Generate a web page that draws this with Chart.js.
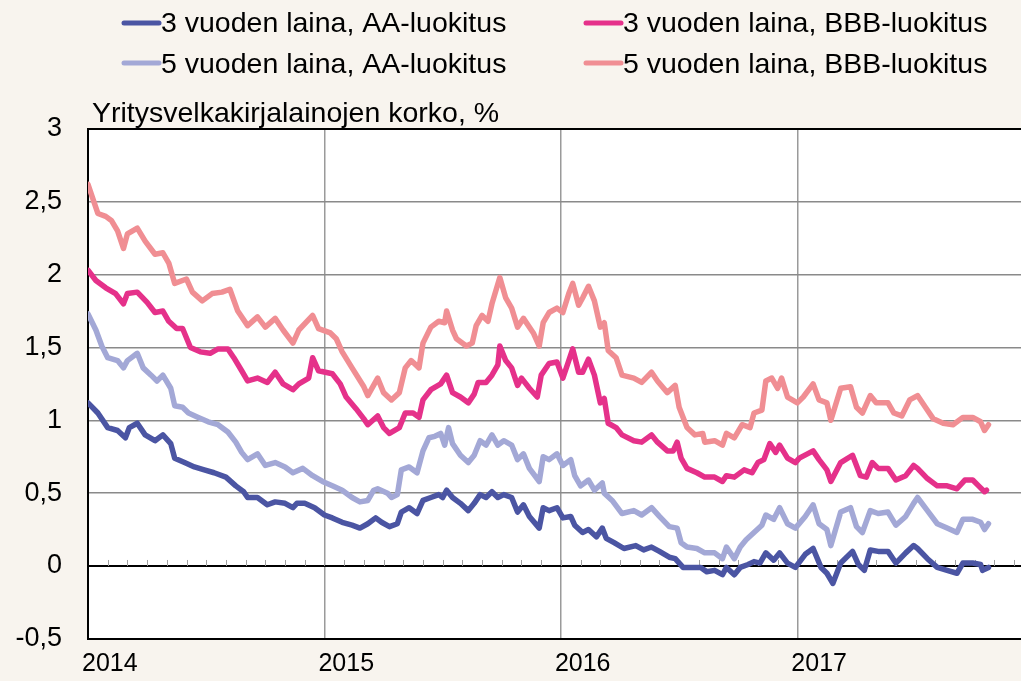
<!DOCTYPE html>
<html>
<head>
<meta charset="utf-8">
<script src="https://cdn.jsdelivr.net/npm/chart.js@4.4.1/dist/chart.umd.min.js"></script>
<style>
  body { margin: 0; background: #f8f4ee; }
  canvas { display: block; }
</style>
</head>
<body>
<canvas id="grafico" width="1021" height="681"></canvas>
<script>
// x = kuukausia vuoden 2014 alusta
const xTicks = [0, 12, 24, 36];
const yearLabels = ['2014', '2015', '2016', '2017'];
const yTicks = [-0.5, 0, 0.5, 1, 1.5, 2, 2.5, 3];

const seriesNames = ['3 vuoden laina, AA-luokitus', '3 vuoden laina, BBB-luokitus',
                     '5 vuoden laina, AA-luokitus', '5 vuoden laina, BBB-luokitus'];
const seriesColors = ['#4b55a3', '#e5318a', '#a3a8d6', '#f08e93'];
const yAxisTitle = 'Yritysvelkakirjalainojen korko, %';

const aa3Months = [0,0.5,1.0,1.5,1.9,2.1,2.5,2.9,3.4,3.8,4.2,4.4,4.9,5.4,5.9,6.4,7.0,7.5,7.9,8.1,8.6,9.1,9.5,10.0,10.4,10.6,11.0,11.5,12.0,
  12.4,12.9,13.4,13.8,14.2,14.6,14.9,15.3,15.7,15.9,16.3,16.7,17.0,17.4,17.8,18.0,18.2,18.5,18.9,19.3,19.6,19.9,20.2,20.5,20.8,21.1,21.5,21.8,22.1,22.4,22.9,23.1,23.4,23.8,
  24.1,24.5,24.7,25.1,25.4,25.8,26.1,26.3,26.7,27.2,27.8,28.2,28.6,29.0,29.5,29.8,30.2,30.6,31.1,31.4,31.8,32.2,32.4,32.8,33.1,33.5,33.8,34.1,34.4,34.8,35.1,35.5,35.9,
  36.4,36.8,37.2,37.5,37.8,38.2,38.8,39.1,39.4,39.7,40.1,40.6,41.0,41.5,41.9,42.1,42.6,43.1,43.6,44.1,44.4,44.9,45.3,45.4,45.7];
const aa3Values = [1.12,1.05,0.95,0.93,0.88,0.95,0.98,0.90,0.86,0.90,0.84,0.74,0.71,0.68,0.66,0.64,0.61,0.55,0.51,0.47,0.47,0.42,0.44,0.43,0.40,0.43,0.43,0.40,0.35,
  0.33,0.30,0.28,0.26,0.29,0.33,0.30,0.27,0.29,0.37,0.40,0.36,0.45,0.47,0.49,0.47,0.52,0.47,0.43,0.38,0.43,0.49,0.47,0.51,0.47,0.49,0.47,0.37,0.42,0.34,0.26,0.40,0.38,0.40,
  0.33,0.34,0.28,0.23,0.25,0.20,0.26,0.19,0.16,0.12,0.14,0.11,0.13,0.10,0.06,0.05,-0.01,-0.01,-0.01,-0.04,-0.03,-0.06,-0.01,-0.06,-0.01,0.01,0.03,0.02,0.09,0.04,0.09,0.02,-0.01,
  0.08,0.12,-0.01,-0.05,-0.12,0.02,0.10,0.01,-0.03,0.11,0.10,0.10,0.02,0.09,0.14,0.12,0.05,-0.01,-0.03,-0.05,0.02,0.02,0.01,-0.03,-0.01];

const bbb3Months = [0,0.4,0.9,1.4,1.8,2.0,2.5,3.0,3.4,3.8,4.1,4.5,4.8,5.2,5.7,6.2,6.6,7.1,7.4,7.8,8.1,8.6,9.1,9.5,9.9,10.4,10.7,11.2,11.4,11.7,
  12.4,12.8,13.1,13.6,14.0,14.2,14.7,15.0,15.3,15.8,16.1,16.5,16.8,17.0,17.4,17.9,18.2,18.5,18.9,19.3,19.6,19.8,20.2,20.5,20.8,20.9,21.2,21.5,21.8,22.0,22.4,22.8,23.0,23.4,23.8,
  24.1,24.4,24.6,24.9,25.1,25.4,25.7,26.0,26.2,26.4,26.8,27.1,27.7,28.1,28.6,28.9,29.4,29.7,29.9,30.1,30.4,30.9,31.3,31.8,32.2,32.4,32.8,33.3,33.7,34.0,34.3,34.6,34.9,35.1,35.5,35.9,
  36.1,36.8,37.1,37.5,37.7,38.2,38.8,39.2,39.5,39.8,40.1,40.6,41.0,41.5,41.9,42.1,42.6,43.1,43.6,44.1,44.5,44.9,45.2,45.5,45.6];
const bbb3Values = [2.03,1.96,1.91,1.87,1.80,1.87,1.88,1.81,1.74,1.75,1.68,1.63,1.63,1.50,1.47,1.46,1.49,1.49,1.43,1.34,1.27,1.29,1.26,1.33,1.25,1.21,1.25,1.29,1.43,1.34,
  1.32,1.25,1.16,1.08,1.01,0.97,1.03,0.95,0.91,0.95,1.05,1.05,1.02,1.14,1.21,1.25,1.31,1.19,1.16,1.12,1.18,1.26,1.26,1.31,1.38,1.51,1.41,1.36,1.24,1.29,1.22,1.16,1.31,1.39,1.40,
  1.29,1.41,1.49,1.33,1.33,1.42,1.31,1.12,1.15,0.98,0.95,0.90,0.86,0.85,0.90,0.85,0.79,0.79,0.85,0.74,0.67,0.64,0.61,0.61,0.58,0.62,0.61,0.66,0.64,0.71,0.73,0.84,0.78,0.83,0.74,0.71,
  0.74,0.79,0.73,0.66,0.58,0.71,0.76,0.62,0.61,0.71,0.67,0.67,0.59,0.62,0.69,0.67,0.60,0.55,0.55,0.53,0.59,0.59,0.55,0.51,0.52];

const aa5Months = [0,0.4,0.7,1.0,1.5,1.8,2.0,2.5,2.8,3.2,3.5,3.8,4.2,4.4,4.8,5.1,5.6,6.1,6.6,7.1,7.5,7.8,8.1,8.6,9.0,9.5,10.0,10.4,10.9,11.4,11.9,
  12.4,12.9,13.4,13.8,14.2,14.5,14.7,15.2,15.4,15.7,15.9,16.3,16.7,17.0,17.3,17.6,17.9,18.1,18.3,18.5,18.9,19.3,19.6,19.9,20.2,20.5,20.8,21.1,21.5,21.8,22.1,22.4,22.9,23.1,23.4,23.8,
  24.1,24.5,24.7,25.0,25.4,25.7,26.1,26.2,26.6,27.1,27.7,28.1,28.6,29.0,29.5,29.9,30.1,30.4,30.9,31.3,31.8,32.2,32.4,32.8,33.1,33.4,33.8,34.2,34.4,34.8,35.1,35.5,35.9,
  36.4,36.8,37.1,37.5,37.7,38.2,38.7,39.0,39.3,39.7,40.1,40.6,41.0,41.5,41.9,42.1,42.6,43.1,43.6,44.1,44.4,44.9,45.3,45.5,45.7];
const aa5Values = [1.73,1.62,1.51,1.43,1.41,1.36,1.41,1.46,1.36,1.31,1.27,1.31,1.22,1.10,1.09,1.05,1.02,0.99,0.97,0.92,0.85,0.78,0.73,0.77,0.69,0.71,0.68,0.64,0.67,0.62,0.58,
  0.55,0.52,0.47,0.44,0.45,0.52,0.53,0.50,0.47,0.49,0.66,0.68,0.64,0.79,0.88,0.89,0.91,0.83,0.95,0.84,0.76,0.71,0.76,0.86,0.83,0.90,0.83,0.86,0.83,0.73,0.77,0.67,0.58,0.75,0.73,0.77,
  0.69,0.73,0.62,0.55,0.59,0.52,0.57,0.50,0.45,0.36,0.38,0.35,0.40,0.34,0.27,0.26,0.16,0.13,0.12,0.09,0.09,0.05,0.13,0.05,0.13,0.18,0.23,0.28,0.35,0.32,0.40,0.29,0.26,
  0.34,0.42,0.29,0.25,0.14,0.37,0.40,0.27,0.23,0.38,0.36,0.37,0.28,0.34,0.43,0.47,0.38,0.29,0.26,0.23,0.32,0.32,0.30,0.25,0.29];

const bbb5Months = [0,0.5,0.9,1.2,1.5,1.8,2.0,2.5,2.9,3.4,3.8,4.1,4.4,5.0,5.3,5.8,6.3,6.8,7.2,7.6,8.1,8.6,9.0,9.5,9.9,10.4,10.7,11.4,11.7,
  12.3,12.6,12.9,13.4,14.0,14.2,14.7,15.0,15.4,15.8,16.1,16.4,16.8,17.0,17.4,17.8,18.1,18.2,18.5,18.7,19.2,19.5,19.7,20.0,20.3,20.5,20.9,21.2,21.5,21.8,22.1,22.6,22.9,23.1,23.4,23.8,
  24.1,24.4,24.6,24.9,25.1,25.4,25.7,26.0,26.2,26.4,26.8,27.1,27.7,28.1,28.6,28.9,29.4,29.8,30.0,30.4,30.8,31.2,31.3,31.8,32.2,32.4,32.8,33.2,33.6,33.8,34.2,34.4,34.7,35.0,35.2,35.5,
  36.0,36.3,36.8,37.1,37.5,37.7,38.2,38.7,39.0,39.3,39.7,40.0,40.6,40.9,41.3,41.7,42.1,42.5,42.9,43.4,43.9,44.4,44.9,45.3,45.5,45.7];
const bbb5Values = [2.62,2.42,2.40,2.37,2.30,2.18,2.28,2.32,2.23,2.14,2.15,2.08,1.94,1.97,1.88,1.82,1.87,1.88,1.90,1.75,1.65,1.71,1.64,1.70,1.62,1.53,1.62,1.72,1.63,
  1.60,1.56,1.47,1.36,1.23,1.17,1.29,1.19,1.14,1.19,1.36,1.41,1.36,1.53,1.64,1.68,1.67,1.75,1.62,1.56,1.51,1.53,1.65,1.72,1.68,1.80,1.98,1.84,1.77,1.64,1.70,1.60,1.51,1.67,1.74,1.77,
  1.74,1.87,1.94,1.79,1.84,1.92,1.82,1.64,1.67,1.48,1.43,1.31,1.29,1.26,1.33,1.27,1.19,1.24,1.09,0.95,0.90,0.91,0.85,0.86,0.83,0.91,0.88,0.97,0.95,1.05,1.07,1.27,1.29,1.22,1.29,1.16,
  1.12,1.16,1.25,1.14,1.12,1.00,1.22,1.23,1.09,1.05,1.17,1.12,1.12,1.05,1.03,1.14,1.17,1.09,1.01,0.98,0.97,1.02,1.02,0.99,0.93,0.97];

const allMonths = [aa3Months, bbb3Months, aa5Months, bbb5Months];
const allValues = [aa3Values, bbb3Values, aa5Values, bbb5Values];

const FONT = '"Liberation Sans", Arial, sans-serif';

// valkoinen piirtoalue, kuukausiviivat nollatasolle, selite ja otsikko
const decorations = {
    id: 'decorations',
    beforeDraw(chart) {
        const a = chart.chartArea, c = chart.ctx;
        c.save();
        c.fillStyle = '#ffffff';
        c.fillRect(a.left, a.top, a.right - a.left, a.bottom - a.top);
        c.restore();
    },
    beforeDatasetsDraw(chart) {
        const c = chart.ctx, x = chart.scales.x, y0 = chart.scales.y.getPixelForValue(0);
        c.save();
        c.strokeStyle = '#a0a0a0';
        c.lineWidth = 1;
        for (let m = 1; m < 48; m++) {
            const px = Math.round(x.getPixelForValue(m)) + 0.5;
            if (px > chart.chartArea.right) break;
            c.beginPath();
            c.moveTo(px, y0 - 6);
            c.lineTo(px, y0);
            c.stroke();
        }
        c.restore();
    },
    afterDraw(chart) {
        const c = chart.ctx, a = chart.chartArea;
        c.save();
        c.font = '28.5px ' + FONT;
        c.fillStyle = '#000';
        c.textBaseline = 'alphabetic';
        c.fillText(yAxisTitle, a.left + 4, a.top - 7);
        const cols = [122, 584], rows = [[23, 32], [63, 73]];
        seriesNames.forEach((name, i) => {
            const cx = cols[i % 2], r = rows[Math.floor(i / 2)];
            c.strokeStyle = seriesColors[i];
            c.lineWidth = 5;
            c.lineCap = 'round';
            c.beginPath();
            c.moveTo(cx + 2, r[0]);
            c.lineTo(cx + 37, r[0]);
            c.stroke();
            c.fillText(name, cx + 39, r[1]);
        });
        c.restore();
    }
};

const ctx = document.getElementById('grafico').getContext('2d');
new Chart(ctx, {
    type: 'line',
    data: {
        datasets: seriesNames.map((name, i) => ({
            label: name,
            data: allMonths[i].map((m, k) => ({ x: m, y: allValues[i][k] })),
            borderColor: seriesColors[i],
            backgroundColor: seriesColors[i],
            borderWidth: 5.5,
            pointRadius: 0,
            tension: 0,
            borderCapStyle: 'round',
            borderJoinStyle: 'round'
        })).reverse()
    },
    options: {
        responsive: false,
        animation: false,
        devicePixelRatio: 1,
        layout: { padding: { top: 129, left: 0, right: 0, bottom: 0 } },
        plugins: { legend: { display: false }, tooltip: { enabled: false } },
        scales: {
            x: {
                type: 'linear',
                min: 0,
                max: 47.35,
                afterBuildTicks: s => { s.ticks = xTicks.map(v => ({ value: v })); },
                afterFit: s => { s.height = 41; },
                ticks: {
                    callback: v => yearLabels[xTicks.indexOf(v)],
                    font: { size: 25, family: FONT },
                    color: '#000',
                    padding: 10,
                    maxRotation: 0,
                    align: 'start',
                    labelOffset: -6
                },
                grid: { color: '#9a9a9a', lineWidth: 1.5, drawTicks: false },
                border: { color: '#000', width: 2 }
            },
            y: {
                min: -0.5,
                max: 3,
                afterBuildTicks: s => { s.ticks = yTicks.map(v => ({ value: v })); },
                afterFit: s => { s.width = 88; },
                ticks: {
                    callback: v => String(v).replace('.', ','),
                    font: { size: 27, family: FONT },
                    color: '#000',
                    padding: 26
                },
                grid: {
                    color: c => (c.tick && (c.tick.value === 0 || c.tick.value === 3)) ? '#000' : '#8a8a8a',
                    lineWidth: c => (c.tick && (c.tick.value === 0 || c.tick.value === 3)) ? 2 : 1.5,
                    drawTicks: false
                },
                border: { color: '#000', width: 2 }
            }
        }
    },
    plugins: [decorations]
});
</script>
</body>
</html>
